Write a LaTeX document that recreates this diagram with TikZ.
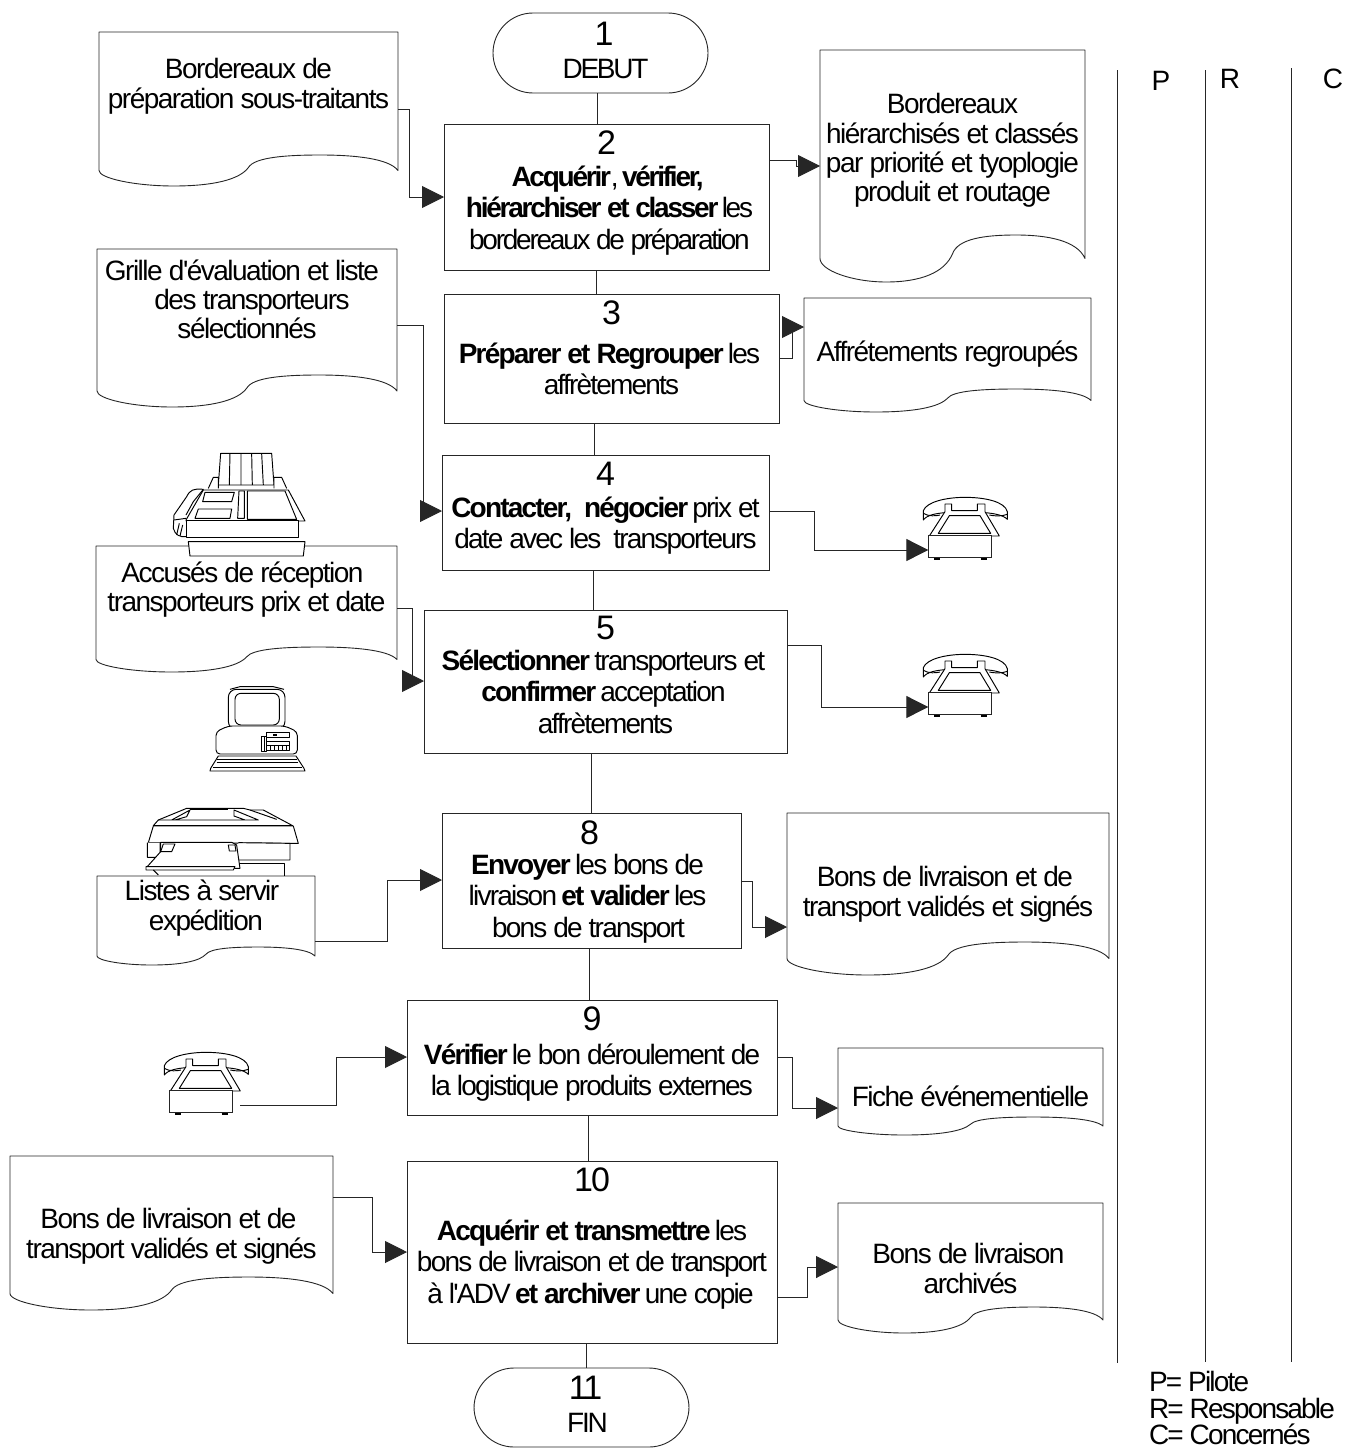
\documentclass[tikz,border=0pt]{standalone}
\usepackage{fontspec}
\newfontfamily\mainf[LetterSpace=-5.4]{Liberation Sans}
\usetikzlibrary{arrows.meta}
\tikzset{
 every node/.append style={font=\mainf},
 line/.style={draw=black!85,line width=.9pt},
 conn/.style={line,line cap=butt,-{Triangle[length=22pt,width=22pt]}},
 plain/.style={line},
 icon/.style={draw=black,line width=.95pt,line join=round},
 iconw/.style={icon,fill=white},
 boxn/.style={line,rectangle,inner sep=0pt,outer sep=0pt,anchor=north west,fill=white,text=black},
 termn/.style={boxn,rounded corners=40pt},
 docn/.style={rectangle,inner sep=0pt,outer sep=0pt,anchor=north west},
 txt/.style={inner sep=0pt,outer sep=0pt,anchor=base},
}
\newcommand{\bodyf}[1]{\fontsize{28}{#1}\selectfont}
\newcommand{\numf}{\fontsize{34}{38}\selectfont}
\newcommand{\tightf}{\addfontfeature{LetterSpace=-8}}
\newcommand{\legf}{\addfontfeature{LetterSpace=-6.5}}
% name x1 y1 x2 y2 style numbase num lines
\newcommand{\stbox}[9]{%
 \node[#6] (#1) at (#2,#3) {\vbox to \dimexpr #5pt-#3pt\relax{\hsize=\dimexpr #4pt-#2pt\relax
   \bodyf{31.5}\nointerlineskip\kern\dimexpr #7pt-#3pt\relax
   \hbox to \hsize{\hss\smash{\numf #8}\hss}\nointerlineskip
   \stboxrest{#9}\vss}};}
\newcommand{\firstb}{0}
\newcommand{\stboxrest}[1]{\kern\dimexpr\firstb pt-\numb pt-\ht\strutbox\relax\vbox{\centering\addfontfeature{LetterSpace=-6.4}\strut #1\par}}
\newcommand{\numb}{0}
\newcommand{\setb}[2]{\renewcommand{\numb}{#1}\renewcommand{\firstb}{#2}}
% name x1 y1 x2 y2 wave firstbase lines
\newcommand{\docbox}[8]{%
 \pgfmathsetmacro\W{#4-#2}
 \draw[line,fill=white,line join=round] (#2,#3) -- (#4,#3) -- ({#4},{#5-.5*#6})
   .. controls ({#4-.03*\W},{#5-.88*#6}) and ({#2+.86*\W},{#5-#6}) .. ({#2+.74*\W},{#5-#6})
   .. controls ({#2+.62*\W},{#5-#6}) and ({#2+.52*\W},{#5-.92*#6}) .. ({#2+.50*\W},{#5-.6*#6})
   .. controls ({#2+.47*\W},{#5-.2*#6}) and ({#2+.38*\W},{#5}) .. ({#2+.25*\W},{#5})
   .. controls ({#2+.12*\W},{#5}) and ({#2},{#5-.25*#6}) .. ({#2},{#5-.5*#6}) -- cycle;
 \node[docn] (#1) at (#2,#3) {\vbox to \dimexpr #5pt-#3pt\relax{\hsize=\dimexpr #4pt-#2pt\relax
   \bodyf{29}\nointerlineskip\kern\dimexpr #7pt-#3pt-\ht\strutbox\relax
   \vbox{\centering\strut #8\par}\vss}};}
\newcommand{\phoneicon}[3]{%
 \begin{scope}[shift={(#2,#3)},x=.3333pt,y=-.3333pt]
  \draw[iconw] (100,92) .. controls (110,65) and (170,52) .. (225,52) .. controls (285,52) and (345,65) .. (352,95)
     -- (352,118) .. controls (340,105) and (310,100) .. (285,98) -- (165,98) .. controls (140,100) and (110,105) .. (100,120) -- cycle;
  \draw[icon] (100,100) .. controls (115,110) and (140,108) .. (150,105);
  \draw[icon] (352,103) .. controls (335,110) and (310,108) .. (298,105);
  \draw[iconw] (165,95) -- (165,72) -- (185,72) -- (185,92) -- (262,92) -- (262,72) -- (285,72) -- (285,95) -- (328,168) -- (118,168) -- cycle;
  \draw[icon] (145,160) -- (178,107) -- (270,107) -- (302,160) -- cycle;
  \node[line,fill=white,rectangle,inner sep=0pt,outer sep=0pt,anchor=north west,minimum width=63.3pt,minimum height=21.7pt] (#1) at (115,167) {};
  \draw[icon,line width=1.6pt] (132,237) -- (150,237) (272,237) -- (290,237);
 \end{scope}}
\newcommand{\faxicon}[3]{%
 \begin{scope}[shift={(#2,#3)},x=.3333pt,y=-.3333pt]
  \node[rectangle,inner sep=0pt,outer sep=0pt,anchor=north west,minimum width=132pt,minimum height=105pt] (#1) at (130,-20) {};
  \draw[iconw] (272,-20) -- (425,-20) -- (432,75) -- (265,75) -- cycle;
  \draw[icon] (300,-20) -- (298,75) (333,-20) -- (333,75) (365,-20) -- (367,75) (395,-20) -- (400,75);
  \draw[iconw] (235,85) -- (250,52) -- (265,52) -- (265,85) (432,85) -- (432,52) -- (455,52) -- (470,85);
  \draw[iconw] (168,180) -- (220,90) -- (475,90) -- (525,183) -- (168,183) -- cycle;
  \draw[icon] (225,97) -- (313,97) -- (305,125) -- (218,125) -- cycle (205,147) -- (305,147) -- (300,175) -- (195,175) -- cycle;
  \draw[icon] (327,93) -- (343,93) -- (343,175) -- (323,175) -- cycle (352,93) -- (465,93) -- (500,178) -- (352,178) -- cycle;
  \draw[iconw] (168,182) rectangle (505,232);
  \draw[icon,line join=round] (168,165) -- (190,125) -- (220,88) .. controls (190,85) and (180,90) .. (170,110) -- (132,165) -- (130,205) .. controls (135,225) and (150,232) .. (168,230);
  \draw[icon] (132,180) -- (168,175) (148,190) -- (140,225) (158,195) -- (150,228);
  \draw[iconw] (175,245) -- (525,245) -- (520,288) -- (180,288) -- cycle;
 \end{scope}}
\newcommand{\pcicon}[3]{%
 \begin{scope}[shift={(#2,#3)},x=.3333pt,y=-.3333pt]
  \node[rectangle,inner sep=0pt,outer sep=0pt,anchor=north west,minimum width=96pt,minimum height=86pt] (#1) at (60,48) {};
  \draw[icon] (120,58) -- (150,50) -- (250,50) -- (282,58);
  \draw[iconw,rounded corners=8pt] (115,58) rectangle (285,178);
  \draw[icon,rounded corners=6pt] (135,70) rectangle (268,165);
  \draw[iconw,rounded corners=4pt] (78,185) -- (115,168) -- (285,168) -- (322,185) -- (322,252) -- (78,252) -- cycle;
  \draw[icon] (228,187) rectangle (298,203) (228,213) rectangle (298,240);
  \draw[icon] (215,200) rectangle (228,245) (222,200) -- (222,245);
  \draw[icon] (240,225) -- (240,240) (252,225) -- (252,240) (264,225) -- (264,240) (276,225) -- (276,240) (288,225) -- (288,240) (232,225) -- (298,225);
  \draw[icon,line width=1.6pt] (250,195) -- (262,195);
  \draw[iconw] (85,258) -- (318,258) -- (342,295) -- (345,303) -- (60,303) -- (62,295) -- cycle;
  \draw[icon] (80,268) -- (322,268) (80,278) -- (325,278) (70,292) -- (335,292);
 \end{scope}}
\newcommand{\printicon}[3]{%
 \begin{scope}[shift={(#2,#3)},x=.3333pt,y=-.3333pt]
  \node[rectangle,inner sep=0pt,outer sep=0pt,anchor=north west,minimum width=152pt,minimum height=67pt] (#1) at (50,85) {};
  \draw[iconw] (85,120) -- (170,85) -- (340,85) -- (360,90) -- (400,90) -- (488,137) -- (70,137) -- (85,120);
  \draw[icon,line width=1.8pt] (180,87) -- (295,87);
  \draw[icon] (125,120) -- (180,90) -- (170,110) -- (135,120) (85,120) -- (385,120) -- (312,90) -- (312,108) -- (345,120) (360,90) -- (440,118);
  \draw[iconw] (70,138) -- (490,138) -- (505,190) -- (55,188) -- cycle;
  \draw[iconw] (52,188) -- (52,232) -- (90,232) -- (90,188) (325,188) -- (480,190) -- (480,240) -- (325,240);
  \draw[icon] (325,250) -- (463,250) -- (463,287);
  \draw[iconw] (92,187) -- (305,187) -- (320,195) -- (330,265) -- (50,262) -- (92,215) -- cycle;
  \draw[icon] (100,192) -- (135,192) -- (125,215) -- (92,215) -- cycle (295,195) -- (315,195) -- (318,213) -- (298,213) -- cycle;
  \draw[iconw] (48,260) -- (315,260) -- (310,270) -- (48,270) -- cycle;
  \draw[icon] (70,270) -- (85,285);
 \end{scope}}
\begin{document}
\begin{tikzpicture}[x=1pt,y=-1pt]
\useasboundingbox (0,0) rectangle (1365,1448);
\clip (0,0) rectangle (1365,1448);
\fill[white] (0,0) rectangle (1365,1448);
% process boxes
\setb{45}{78}\stbox{b1}{493}{13}{708}{93}{termn}{45}{\hspace*{7pt}1}{\hspace*{10pt}{\tightf DEBUT}}
\setb{154}{186}\stbox{b2}{444}{124}{769}{270}{boxn}{154}{2}{\tightf\textbf{Acquérir}, \textbf{vérifier,}\\\hspace*{6pt}\textbf{hiérarchiser et classer} les\\\hspace*{6pt}bordereaux de préparation}
\setb{324}{363}\stbox{b3}{444}{294}{779}{423}{boxn}{324}{3}{\hspace*{-4pt}\textbf{Préparer et Regrouper} les\\affrètements}
\setb{485}{517}\stbox{b4}{442}{455}{769}{570}{boxn}{485}{4}{\textbf{Contacter,\ \ négocier} prix et\\date avec les\ \ transporteurs}
\setb{639}{670}\stbox{b5}{424}{610}{787}{753}{boxn}{639}{5}{\hspace*{-4pt}\textbf{Sélectionner} transporteurs et\\\hspace*{-4pt}\textbf{confirmer} acceptation\\affrètements}
\setb{844}{874}\stbox{b8}{442}{813}{741}{948}{boxn}{844}{\hspace*{-4pt}8}{\hspace*{-8pt}\textbf{Envoyer} les bons de\\\hspace*{-8pt}livraison \textbf{et valider} les\\\hspace*{-6pt}bons de transport}
\setb{1030}{1064}\stbox{b9}{407}{1000}{777}{1115}{boxn}{1030}{9}{\textbf{Vérifier} le bon déroulement de\\la logistique produits externes}
\setb{1191}{1240}\stbox{b10}{407}{1161}{777}{1343}{boxn}{1191}{10}{\textbf{Acquérir et transmettre} les\\bons de livraison et de transport\\\hspace*{-3pt}à l'ADV \textbf{et archiver} une copie}
\setb{1399}{1432}\stbox{b11}{474}{1368}{689}{1447}{termn}{1399}{\hspace*{8pt}11}{\hspace*{12pt}{\tightf FIN}}
% flow
\draw[plain] (b1.south -| 597,0) -- (b2.north -| 597,0);
\draw[plain] (b2.south -| 596,0) -- (b3.north -| 596,0);
\draw[plain] (b3.south -| 594,0) -- (b4.north -| 594,0);
\draw[plain] (b4.south -| 593,0) -- (b5.north -| 593,0);
\draw[plain] (b5.south -| 591,0) -- (b8.north -| 591,0);
\draw[plain] (b8.south -| 589,0) -- (b9.north -| 589,0);
\draw[plain] (b9.south -| 588,0) -- (b10.north -| 588,0);
\draw[plain] (b10.south -| 586,0) -- (b11.north -| 586,0);
% documents
\docbox{d1}{99}{32}{398}{186}{31}{78}{Bordereaux de\\préparation sous-traitants}
\docbox{d2}{820}{50}{1085}{282}{47}{113}{Bordereaux\\hiérarchisés et classés\\par priorité et tyoplogie\\produit et routage}
\docbox{d3}{97}{249}{397}{407}{32}{280}{\hspace*{-10pt}Grille d'évaluation et liste\\\hspace*{10pt}des transporteurs\\sélectionnés}
\docbox{d4}{804}{298}{1091}{412}{23}{361}{Affrétements regroupés}
\docbox{d5}{96}{546}{397}{672}{25}{582}{\hspace*{-8pt}Accusés de réception\\transporteurs prix et date}
\docbox{d6}{97}{876}{315}{965}{18}{900}{\hspace*{-8pt}Listes à servir\\expédition}
\docbox{d7}{787}{813}{1109}{975}{33}{886}{\hspace*{-6pt}Bons de livraison et de\\transport validés et signés}
\docbox{d8}{838}{1048}{1103}{1135}{18}{1106}{Fiche événementielle}
\docbox{d9}{10}{1156}{333}{1310}{33}{1228}{\hspace*{-6pt}Bons de livraison et de\\transport validés et signés}
\docbox{d10}{838}{1203}{1103}{1333}{26}{1263}{\hspace*{-4pt}Bons de livraison\\archivés}
% icons
\faxicon{fax}{130}{460}
\phoneicon{p4}{890}{480}
\phoneicon{p5}{890}{637}
\phoneicon{p9}{131}{1035}
\pcicon{pc}{190}{670}
\printicon{prn}{130}{780}
\coordinate (p9out) at (240,1105);
% connectors
\draw[conn] (d1.east |- 0,109) -| (409,197) -- (b2.west |- 0,197);
\draw[conn] (b2.east |- 0,160) -| (796,166) -- (d2.west |- 0,166);
\draw[conn] (b3.east |- 0,358) -| (792,327) -- (d4.west |- 0,327);
\draw[conn] (d3.east |- 0,325) -| (423,511) -- (b4.west |- 0,511);
\draw[conn] (b4.east |- 0,511) -| (814,550) -- (p4.west |- 0,550);
\draw[conn] (d5.east |- 0,608) -| (412,681) -- (b5.west |- 0,681);
\draw[conn] (b5.east |- 0,645) -| (821,707) -- (p5.west |- 0,707);
\draw[conn] (d6.east |- 0,941) -| (387,880) -- (b8.west |- 0,880);
\draw[conn] (b8.east |- 0,881) -| (752,927) -- (d7.west |- 0,927);
\draw[conn] (p9out) -| (336,1057) -- (b9.west |- 0,1057);
\draw[conn] (b9.east |- 0,1057) -| (792,1108) -- (d8.west |- 0,1108);
\draw[conn] (d9.east |- 0,1197) -| (372,1252) -- (b10.west |- 0,1252);
\draw[conn] (b10.east |- 0,1297) -| (807,1267) -- (d10.west |- 0,1267);
% PRC column
\coordinate (pt) at (1117,70); \coordinate (pb) at (1117,1363);
\coordinate (rt) at (1205,70); \coordinate (rb) at (1205,1362);
\coordinate (ct) at (1291,68); \coordinate (cb) at (1291,1362);
\draw[plain] (pt) -- (pb); \draw[plain] (rt) -- (rb); \draw[plain] (ct) -- (cb);
\node[txt] (lp) at (1161,90) {\bodyf{30}P};
\node[txt] (lr) at (1230,88) {\bodyf{30}R};
\node[txt] (lc) at (1333,88) {\bodyf{30}C};
\node[txt,anchor=base west] (leg1) at (1149,1391) {\bodyf{30}\legf P= Pilote};
\node[txt,anchor=base west] (leg2) at (1149,1418) {\bodyf{30}\legf R= Responsable};
\node[txt,anchor=base west] (leg3) at (1149,1444) {\bodyf{30}\legf C= Concernés};
\end{tikzpicture}
\end{document}
